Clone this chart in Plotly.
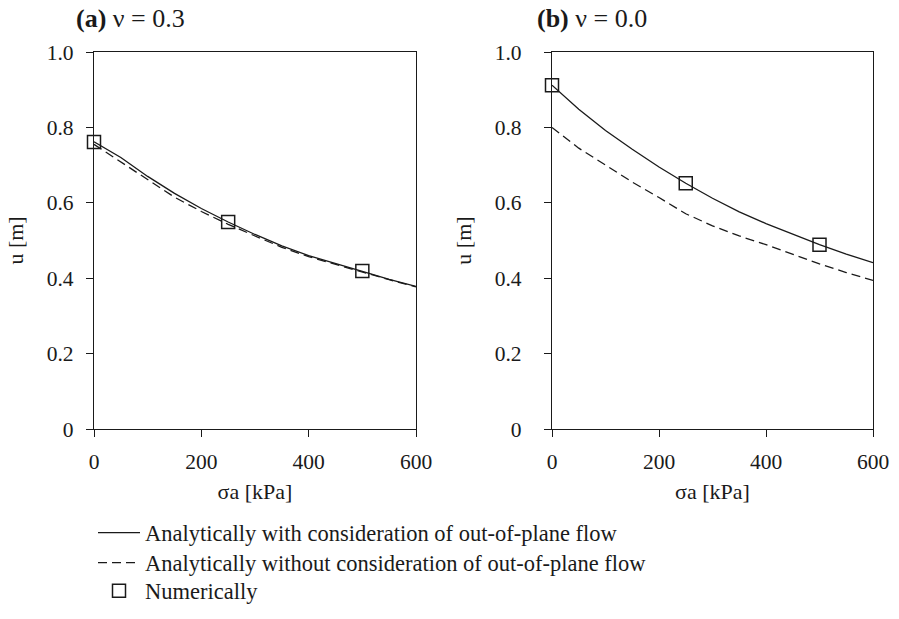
import plotly.graph_objects as go

# ---- data ----
sigma = [0, 50, 100, 150, 200, 250, 300, 350, 400, 450, 500, 550, 600]

# (a) nu = 0.3
a_with = [0.762, 0.720, 0.670, 0.625, 0.585, 0.549, 0.516, 0.486, 0.460, 0.438, 0.418, 0.397, 0.378]
a_without = [0.755, 0.708, 0.660, 0.615, 0.577, 0.543, 0.512, 0.482, 0.457, 0.436, 0.416, 0.396, 0.377]
a_num_x = [0, 250, 500]
a_num_y = [0.761, 0.549, 0.419]

# (b) nu = 0.0
b_with = [0.912, 0.848, 0.792, 0.742, 0.695, 0.652, 0.612, 0.576, 0.545, 0.516, 0.489, 0.464, 0.441]
b_without = [0.800, 0.745, 0.700, 0.655, 0.614, 0.571, 0.539, 0.512, 0.489, 0.463, 0.438, 0.415, 0.394]
b_num_x = [0, 250, 500]
b_num_y = [0.912, 0.652, 0.489]

x_ticks = [0, 200, 400, 600]
y_ticks = [0, 0.2, 0.4, 0.6, 0.8, 1.0]
y_ticktext = ["0", "0.2", "0.4", "0.6", "0.8", "1.0"]

names = ["Analytically with consideration of out-of-plane flow",
         "Analytically without consideration of out-of-plane flow",
         "Numerically"]
titles = ["<b>(a)</b> ν = 0.3", "<b>(b)</b> ν = 0.0"]

FONT = "Liberation Serif"
INK = "#1a1a1a"
W, H = 899, 619

fig = go.Figure()

panels = [
    ("x", "y", a_with, a_without, a_num_x, a_num_y, True),
    ("x2", "y2", b_with, b_without, b_num_x, b_num_y, False),
]
for xa, ya, w, wo, nx, ny, show in panels:
    fig.add_trace(go.Scatter(x=sigma, y=w, mode="lines", xaxis=xa, yaxis=ya,
                             line=dict(color=INK, width=1.3), name=names[0],
                             showlegend=show, legend="legend"))
    fig.add_trace(go.Scatter(x=sigma, y=wo, mode="lines", xaxis=xa, yaxis=ya,
                             line=dict(color=INK, width=1.3, dash="9px,5px"), name=names[1],
                             showlegend=show, legend="legend2"))
    fig.add_trace(go.Scatter(x=nx, y=ny, mode="markers", xaxis=xa, yaxis=ya, cliponaxis=False,
                             marker=dict(symbol="square-open", size=13, color=INK,
                                         line=dict(width=1.5, color=INK)),
                             name=names[2], showlegend=show, legend="legend3"))

def px_x(p):
    return p / W

def px_y(p):
    return 1 - p / H

xdoms = [(px_x(94), px_x(416)), (px_x(552), px_x(873))]
ydom = (px_y(429), px_y(52))
y_label_standoff = [8, 18]

axis_common = dict(showline=True, linecolor=INK, linewidth=1.2, mirror=True,
                   ticks="outside", ticklen=7, tickwidth=1.2, tickcolor=INK,
                   showgrid=False, zeroline=False, automargin=False,
                   tickfont=dict(family=FONT, size=21.5, color=INK))

for i, (xname, yname) in enumerate([("xaxis", "yaxis"), ("xaxis2", "yaxis2")]):
    sfx = "" if i == 0 else "2"
    fig.layout[xname] = dict(axis_common, domain=xdoms[i], range=[0, 600],
                             tickvals=x_ticks, anchor="y" + sfx,
                             title=dict(text="σa [kPa]", standoff=10,
                                        font=dict(family=FONT, size=22, color=INK)),
                             ticklabelstandoff=6)
    fig.layout[yname] = dict(axis_common, domain=ydom, range=[0, 1],
                             tickvals=y_ticks, ticktext=y_ticktext, anchor="x" + sfx,
                             title=dict(text="u [m]", standoff=17,
                                       font=dict(family=FONT, size=22, color=INK)),
                             ticklabelstandoff=y_label_standoff[i])

fig.add_annotation(text=titles[0], x=px_x(74), y=px_y(19), xref="paper", yref="paper",
                   xanchor="left", yanchor="middle", showarrow=False,
                   font=dict(family=FONT, size=26, color=INK))
fig.add_annotation(text=titles[1], x=px_x(535), y=px_y(19), xref="paper", yref="paper",
                   xanchor="left", yanchor="middle", showarrow=False,
                   font=dict(family=FONT, size=26, color=INK))

legend_rows = [533, 563, 591]
legend_style = dict(x=px_x(93), xanchor="left", yanchor="middle",
                    font=dict(family=FONT, size=22.5, color=INK),
                    bgcolor="rgba(0,0,0,0)", itemwidth=42)

fig.update_layout(
    width=W, height=H,
    margin=dict(l=0, r=0, t=0, b=0, autoexpand=False),
    paper_bgcolor="white", plot_bgcolor="white",
    font=dict(family=FONT, size=21, color=INK),
    legend=dict(legend_style, y=px_y(legend_rows[0])),
    legend2=dict(legend_style, y=px_y(legend_rows[1])),
    legend3=dict(legend_style, y=px_y(legend_rows[2])),
)

fig.write_html("out.html")
